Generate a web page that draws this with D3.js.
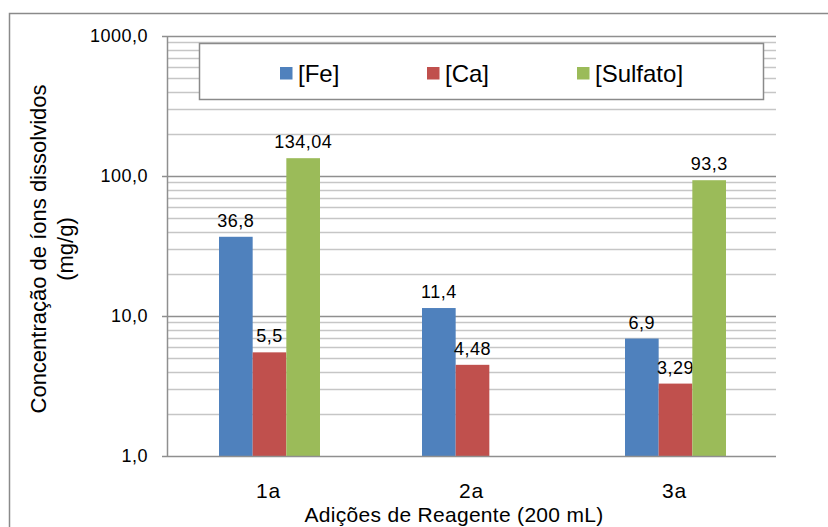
<!DOCTYPE html>
<html>
<head>
<meta charset="utf-8">
<script src="https://cdn.jsdelivr.net/npm/d3@7"></script>
<style>
  body { margin: 0; background: #fff; }
  svg { display: block; font-family: "Liberation Sans", Arial, sans-serif; }
</style>
</head>
<body>
<div id="chart"></div>
<script>
// data
var categories = ["1a", "2a", "3a"];
var seriesNames = ["[Fe]", "[Ca]", "[Sulfato]"];
var feValues = [36.8, 11.4, 6.9];
var caValues = [5.5, 4.48, 3.29];
var sulfatoValues = [134.04, null, 93.3];
var feLabels = ["36,8", "11,4", "6,9"];
var caLabels = ["5,5", "4,48", "3,29"];
var sulfatoLabels = ["134,04", null, "93,3"];
var yTicks = [1, 10, 100, 1000];
var colors = ["#4F81BD", "#C0504D", "#9BBB59"];

var series = [
  {name: seriesNames[0], values: feValues, labels: feLabels},
  {name: seriesNames[1], values: caValues, labels: caLabels},
  {name: seriesNames[2], values: sulfatoValues, labels: sulfatoLabels}
];

var W = 828, H = 527;
var plot = {left: 167, right: 776, top: 36, bottom: 456};

var svg = d3.select("#chart").append("svg")
  .attr("width", W)
  .attr("height", H);

// outer chart border (runs off the right and bottom of the picture)
svg.append("rect")
  .attr("x", 9.5).attr("y", 13.5)
  .attr("width", 840).attr("height", 540)
  .attr("fill", "none")
  .attr("stroke", "#8a8a8a")
  .attr("stroke-width", 1.5);

var x = d3.scaleBand()
  .domain(categories)
  .range([plot.left, plot.right])
  .padding(0);

var xInner = d3.scaleBand()
  .domain(seriesNames)
  .range([52, x.bandwidth() - 50]);

var y = d3.scaleLog()
  .domain([1, 1000])
  .range([plot.bottom, plot.top]);

// gridlines: minor 2..9 in every decade, major at decades
var minor = [];
[1, 10, 100].forEach(function(d){
  for (var k = 2; k <= 9; k++) minor.push(k * d);
});

svg.append("g").selectAll("line")
  .data(minor)
  .enter().append("line")
    .attr("x1", plot.left).attr("x2", plot.right)
    .attr("y1", function(d){ return Math.round(y(d)) + 0.5; })
    .attr("y2", function(d){ return Math.round(y(d)) + 0.5; })
    .attr("stroke", "#c6c6c6")
    .attr("stroke-width", 1.5);

svg.append("g").selectAll("line")
  .data(yTicks.slice(1))
  .enter().append("line")
    .attr("x1", plot.left - 5).attr("x2", plot.right)
    .attr("y1", function(d){ return Math.round(y(d)) + 0.5; })
    .attr("y2", function(d){ return Math.round(y(d)) + 0.5; })
    .attr("stroke", "#8f8f8f")
    .attr("stroke-width", 1.5);

// y axis line
svg.append("line")
  .attr("x1", plot.left + 0.5).attr("x2", plot.left + 0.5)
  .attr("y1", plot.top).attr("y2", plot.bottom)
  .attr("stroke", "#8f8f8f")
  .attr("stroke-width", 1.5);

// y tick labels
var fmt = function(d){ return d3.format(".1f")(d).replace(".", ","); };
svg.append("g").selectAll("text")
  .data(yTicks)
  .enter().append("text")
    .attr("x", 148)
    .attr("y", function(d){ return y(d); })
    .attr("dy", "0.36em")
    .attr("text-anchor", "end")
    .attr("font-size", 18)
    .attr("letter-spacing", 0.5)
    .attr("fill", "#000")
    .text(fmt);

// bars
var groups = svg.append("g").selectAll("g")
  .data(series)
  .enter().append("g")
    .attr("fill", function(d, i){ return colors[i]; });

function points(s){
  return categories.map(function(c, j){
    return {cat: c, name: s.name, value: s.values[j], label: s.labels[j]};
  }).filter(function(d){ return d.value != null; });
}

groups.selectAll("rect")
  .data(points)
  .enter().append("rect")
    .attr("x", function(d){ return x(d.cat) + xInner(d.name); })
    .attr("width", xInner.bandwidth())
    .attr("y", function(d){ return y(d.value); })
    .attr("height", function(d){ return plot.bottom - y(d.value); });

// x axis line (drawn over bars)
svg.append("line")
  .attr("x1", plot.left - 5).attr("x2", plot.right)
  .attr("y1", plot.bottom + 0.5).attr("y2", plot.bottom + 0.5)
  .attr("stroke", "#8f8f8f")
  .attr("stroke-width", 1.5);

// data labels
groups.selectAll("text")
  .data(points)
  .enter().append("text")
    .attr("x", function(d){ return x(d.cat) + xInner(d.name) + xInner.bandwidth() / 2; })
    .attr("y", function(d){ return y(d.value) - 10; })
    .attr("text-anchor", "middle")
    .attr("font-size", 18)
    .attr("letter-spacing", 0.5)
    .attr("fill", "#000")
    .text(function(d){ return d.label; });

// category labels
svg.append("g").selectAll("text")
  .data(categories)
  .enter().append("text")
    .attr("x", function(d){ return x(d) + x.bandwidth() / 2; })
    .attr("y", 498)
    .attr("text-anchor", "middle")
    .attr("font-size", 21)
    .attr("letter-spacing", 0.8)
    .attr("fill", "#000")
    .text(function(d){ return d; });

// axis titles
svg.append("text")
  .attr("x", 454)
  .attr("y", 522)
  .attr("text-anchor", "middle")
  .attr("font-size", 21)
  .attr("letter-spacing", 0.3)
  .attr("fill", "#000")
  .text("Adições de Reagente (200 mL)");

var yTitle = svg.append("text")
  .attr("transform", "translate(38,249) rotate(-90)")
  .attr("text-anchor", "middle")
  .attr("font-size", 22)
  .attr("fill", "#000");
yTitle.append("tspan").attr("x", 0).attr("y", 8).text("Concentração de íons dissolvidos");
yTitle.append("tspan").attr("x", 0).attr("y", 35).text("(mg/g)");

// legend
var legend = svg.append("g");
legend.append("rect")
  .attr("x", 199.5).attr("y", 43.5)
  .attr("width", 564).attr("height", 56)
  .attr("fill", "#fff")
  .attr("stroke", "#8a8a8a")
  .attr("stroke-width", 1.5);

var legendX = [280, 427, 577];
var items = legend.selectAll("g.item")
  .data(seriesNames)
  .enter().append("g")
    .attr("class", "item")
    .attr("transform", function(d, i){ return "translate(" + legendX[i] + ",67)"; });

items.append("rect")
  .attr("width", 12.5).attr("height", 12.5)
  .attr("fill", function(d, i){ return colors[i]; });

items.append("text")
  .attr("x", 18)
  .attr("y", 14.5)
  .attr("font-size", 24)
  .attr("fill", "#000")
  .text(function(d){ return d; });
</script>
</body>
</html>
